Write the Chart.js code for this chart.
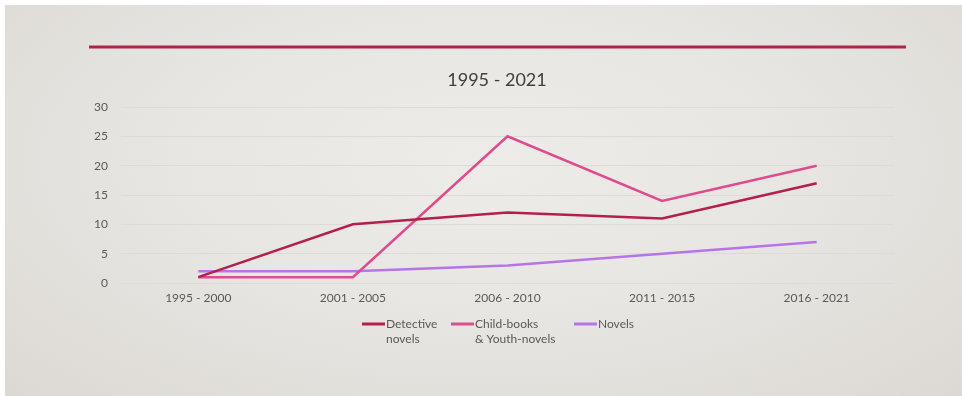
<!DOCTYPE html>
<html>
<head>
<meta charset="utf-8">
<script src="https://cdn.jsdelivr.net/npm/chart.js@4"></script>
<style>
  html, body { margin: 0; padding: 0; background: #fff; }
  #slide {
    position: absolute; left: 5px; top: 5px; width: 957px; height: 391px;
    background: radial-gradient(ellipse at 50% 40%, #eeece9 0%, #e8e6e2 45%, #dcd9d4 100%);
  }
  #wrap { position: absolute; left: 0; top: 0; width: 962px; height: 396px; }
</style>
</head>
<body>
<div id="slide"></div>
<div id="wrap"><canvas id="lineChart" width="962" height="396"></canvas></div>
<script>
const periods = ['1995 - 2000', '2001 - 2005', '2006 - 2010', '2011 - 2015', '2016 - 2021'];
const detective = [1, 10, 12, 11, 17];
const childYouth = [1, 1, 25, 14, 20];
const novels = [2, 2, 3, 5, 7];
const chartTitle = '1995 - 2021';

const FONT = 'Lato, "Open Sans", sans-serif';

// red rule, slide-centred title and the two-line legend
const slideDecor = {
    id: 'slideDecor',
    beforeDraw(chart) {
        const c = chart.ctx;
        c.save();
        c.strokeStyle = '#ad2449';
        c.lineWidth = 3;
        c.beginPath();
        c.moveTo(89, 47);
        c.lineTo(906, 47);
        c.stroke();
        c.font = '18px ' + FONT;
        c.fillStyle = '#404040';
        c.textAlign = 'center';
        c.textBaseline = 'middle';
        c.fillText(chartTitle, 497, 80);
        c.restore();
    },
    afterDraw(chart) {
        const c = chart.ctx;
        const starts = [362, 451, 574];
        const y = 324;
        c.save();
        c.font = '12px ' + FONT;
        c.textBaseline = 'middle';
        c.fillStyle = '#595959';
        chart.data.datasets.forEach((ds, i) => {
            const x = starts[i];
            c.strokeStyle = ds.borderColor;
            c.lineWidth = 3;
            c.beginPath();
            c.moveTo(x, y);
            c.lineTo(x + 23, y);
            c.stroke();
            const lines = Array.isArray(ds.label) ? ds.label : [ds.label];
            lines.forEach((t, j) => c.fillText(t, x + 24, y + j * 15));
        });
        c.restore();
    }
};

new Chart(document.getElementById('lineChart'), {
    type: 'line',
    data: {
        labels: periods,
        datasets: [
            { label: ['Detective', 'novels'], data: detective, borderColor: '#b51f4b' },
            { label: ['Child-books', '& Youth-novels'], data: childYouth, borderColor: '#e04a8e' },
            { label: ['Novels'], data: novels, borderColor: '#b774ea' }
        ]
    },
    options: {
        responsive: false,
        animation: false,
        elements: {
            line: { borderWidth: 2.5, tension: 0 },
            point: { radius: 0 }
        },
        layout: { padding: { left: 0, right: 68, top: 107, bottom: 0 } },
        plugins: {
            legend: { display: false },
            tooltip: { enabled: false },
            title: { display: false }
        },
        scales: {
            x: {
                offset: true,
                grid: { display: false, drawTicks: false },
                border: { display: false },
                ticks: { color: '#595959', font: { family: FONT, size: 12 }, padding: 8, maxRotation: 0 },
                afterFit(s) { s.height = 113; }
            },
            y: {
                min: 0,
                max: 30,
                ticks: { stepSize: 5, color: '#595959', font: { family: FONT, size: 12 }, padding: 13 },
                grid: { color: '#dddbd7', lineWidth: 1, drawTicks: false },
                border: { display: false },
                afterFit(s) { s.width = 121; }
            }
        }
    },
    plugins: [slideDecor]
});
</script>
</body>
</html>
